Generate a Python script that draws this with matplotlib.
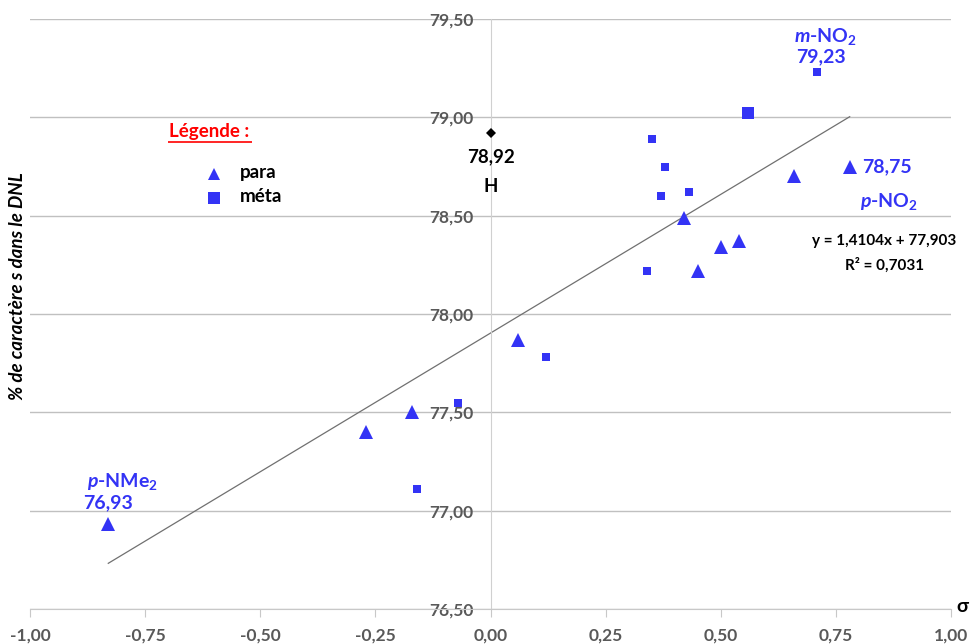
import matplotlib
matplotlib.use("Agg")
import matplotlib.pyplot as plt
import numpy as np

plt.rcParams['font.family'] = ['Lato', 'DejaVu Sans']
plt.rcParams['mathtext.fontset'] = 'custom'
plt.rcParams['mathtext.it'] = 'Lato:italic:bold'
plt.rcParams['mathtext.rm'] = 'Lato:bold'
plt.rcParams['mathtext.bf'] = 'Lato:bold'

# Data
para_x = [-0.83, -0.27, -0.17, 0.06, 0.42, 0.45, 0.50, 0.54, 0.66, 0.78]
para_y = [76.93, 77.40, 77.50, 77.87, 78.49, 78.22, 78.34, 78.37, 78.70, 78.75]
meta_x = [-0.16, -0.07, 0.12, 0.34, 0.35, 0.37, 0.38, 0.43, 0.71]
meta_y = [77.11, 77.55, 77.78, 78.22, 78.89, 78.60, 78.75, 78.62, 79.23]
meta_big_x = [0.56]
meta_big_y = [79.02]
h_x = [0.0]
h_y = [78.92]
slope, intercept, r2 = 1.4104, 77.903, 0.7031
fit_range = [-0.83, 0.78]
x_ticks = [-1.0, -0.75, -0.5, -0.25, 0.0, 0.25, 0.5, 0.75, 1.0]
y_ticks = [76.5, 77.0, 77.5, 78.0, 78.5, 79.0, 79.5]

BLUE = '#3333f5'
GRAY = '#595959'

fig = plt.figure(figsize=(9.71, 6.44), dpi=100)
ax = fig.add_axes([30/971, 1-609/644, 921/971, 590/644])
ax.set_xlim(-1, 1)
ax.set_ylim(76.5, 79.5)

for s in ['top', 'right']:
    ax.spines[s].set_visible(False)
ax.spines['left'].set_position(('data', 0))
ax.spines['left'].set_color('#d0d0d0')
ax.spines['bottom'].set_color('#c8c8c8')

ax.set_yticks(y_ticks)
ax.set_xticks(x_ticks)
fmt = lambda v: f"{v:.2f}".replace('.', ',')
ax.set_yticklabels([fmt(v) for v in y_ticks], fontweight='bold', color=GRAY, fontsize=12.5)
ax.set_xticklabels([fmt(v) for v in x_ticks], fontweight='bold', color=GRAY, fontsize=12.5)
ax.tick_params(axis='y', length=0, pad=12)
ax.tick_params(axis='x', direction='out', length=6, color='#c8c8c8', pad=7)
ax.yaxis.grid(True, color='#c0c0c0', linewidth=1)
ax.set_axisbelow(True)

# trend line
xf = np.array(fit_range)
ax.plot(xf, slope * xf + intercept, color='#707070', linewidth=0.9, zorder=2)

ax.plot(para_x, para_y, linestyle='none', marker='^', color=BLUE, markersize=10, mew=0, zorder=3)
ax.plot(meta_x, meta_y, linestyle='none', marker='s', color=BLUE, markersize=6, mew=0, zorder=3)
ax.plot(meta_big_x, meta_big_y, linestyle='none', marker='s', color=BLUE, markersize=8.5, mew=0, zorder=3)
ax.plot(h_x, h_y, linestyle='none', marker='D', color='black', markersize=5, mew=0, zorder=3)

# annotations
def bt(x, y, s, color=BLUE, size=14, ha='center', **kw):
    ax.text(x, y, s, color=color, fontsize=size, fontweight='bold', ha=ha, va='center', **kw)

bt(0.728, 79.41, r'$\mathit{m}$' + '-NO$_\\mathregular{2}$')
bt(0.717, 79.31, '79,23')
bt(0.808, 78.75, '78,75', ha='left')
bt(0.866, 78.57, r'$\mathit{p}$' + '-NO$_\\mathregular{2}$')
bt(-0.80, 77.15, r'$\mathit{p}$' + '-NMe$_\\mathregular{2}$')
bt(-0.83, 77.04, '76,93')
bt(0.0, 78.80, '78,92', color='black', size=13.5)
bt(0.0, 78.65, 'H', color='black', size=13.5)
bt(0.855, 78.37, 'y = 1,4104x + 77,903', color='black', size=11)
bt(0.855, 78.25, 'R² = ' + f"{r2}".replace('.', ','), color='black', size=11)

# legend
ax.text(-0.61, 78.93, 'Légende :', color='red', fontsize=13.5, fontweight='bold',
        ha='center', va='center')
ax.plot([-0.70, -0.517], [78.877, 78.877], color='red', linewidth=1.2, solid_capstyle='butt')
ax.plot([-0.60], [78.712], marker='^', color=BLUE, markersize=9, mew=0, linestyle='none')
ax.plot([-0.60], [78.59], marker='s', color=BLUE, markersize=8.5, mew=0, linestyle='none')
ax.text(-0.545, 78.72, 'para', fontsize=13.5, fontweight='bold', va='center', color='black')
ax.text(-0.545, 78.595, 'méta', fontsize=13.5, fontweight='bold', va='center', color='black')

# axis labels
fig.text(18/971, 1-286/644, '% de caractère s dans le DNL', rotation=90, fontsize=13.5,
         fontweight='bold', fontstyle='italic', ha='center', va='center')
fig.text(962/971, 1-607/644, 'σ', fontsize=14, fontweight='bold', ha='center', va='center')

fig.savefig('out.png', dpi=100)
